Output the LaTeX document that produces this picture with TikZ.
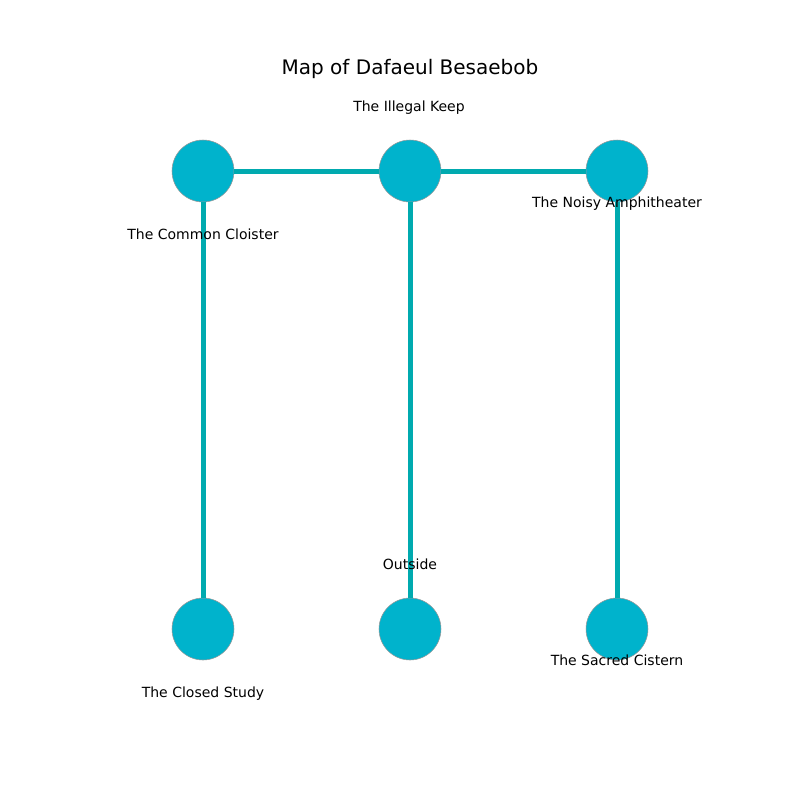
\documentclass[tikz,border=0pt]{standalone}
\usepackage{fontspec}
\setmainfont{DejaVu Sans}
\definecolor{nodefill}{RGB}{0,179,204}
\definecolor{edgecol}{RGB}{0,170,175}
\begin{document}
\begin{tikzpicture}[x=0.75pt,y=-0.75pt,
  place/.style={circle,fill=nodefill,draw=gray!80,line width=0.4pt,minimum size=46.5pt,inner sep=0pt},
  conn/.style={draw=edgecol,line width=3.75pt},
  lbl/.style={font=\fontsize{10.5}{12}\selectfont,inner sep=0pt,anchor=center},
  ttl/.style={font=\fontsize{15}{17}\selectfont,inner sep=0pt,anchor=center}]
\useasboundingbox (0,0) rectangle (800,800);
\node[place] (cc) at (203,171) {};
\node[place] (ik) at (410,171) {};
\node[place] (na) at (617,171) {};
\node[place] (cs) at (203,629) {};
\node[place] (os) at (410,629) {};
\node[place] (sc) at (617,629) {};
\draw[conn] (cc) -- (ik);
\draw[conn] (ik) -- (na);
\draw[conn] (cc) -- (cs);
\draw[conn] (ik) -- (os);
\draw[conn] (na) -- (sc);
\node[lbl] (l1) at (409,108) {The Illegal Keep};
\node[lbl] (l2) at (203,234) {The Common Cloister};
\node[lbl] (l3) at (617,204) {The Noisy Amphitheater};
\node[lbl] (l4) at (410,564) {Outside};
\node[lbl] (l5) at (203,694) {The Closed Study};
\node[lbl] (l6) at (617,660) {The Sacred Cistern};
\node[ttl] (t) at (410,69) {Map of Dafaeul Besaebob};
\end{tikzpicture}
\end{document}
